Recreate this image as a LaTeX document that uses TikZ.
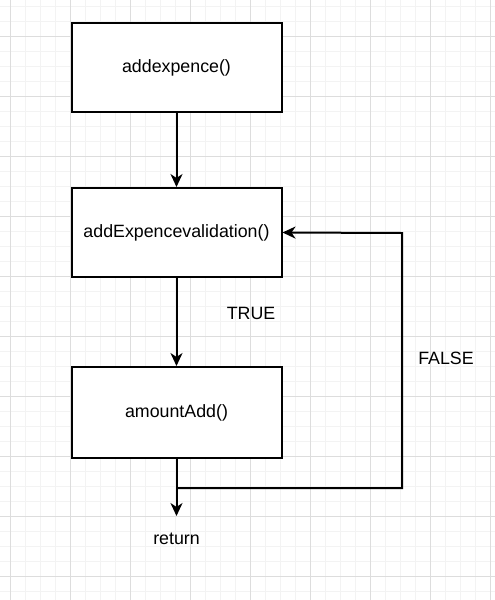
\documentclass[tikz,border=0pt]{standalone}
\usepackage{fontspec}
\setmainfont{Liberation Sans}
\usetikzlibrary{arrows.meta}
\definecolor{minorgrid}{HTML}{F3F3F3}
\definecolor{majorgrid}{HTML}{DDDDDD}
\tikzset{
  box/.style={draw=black, line width=2pt, fill=white, minimum width=210pt, minimum height=89pt, inner sep=0pt, font=\fontsize{17.8}{20}\selectfont},
  lbl/.style={inner sep=0pt, font=\fontsize{17.8}{20}\selectfont},
  conn/.style={draw=black, line width=2pt, -{Stealth[length=13pt,width=12pt,inset=4pt]}},
  plain/.style={draw=black, line width=2pt}
}
\begin{document}
\begin{tikzpicture}[x=1pt,y=-1pt]
\useasboundingbox (0,0) rectangle (495,600);
\fill[white] (0,0) rectangle (495,600);
% grid
\foreach \i in {0,...,33} {\draw[minorgrid, line width=1pt] ({-5+15*\i},0) -- ({-5+15*\i},600);}
\foreach \i in {0,...,40} {\draw[minorgrid, line width=1pt] (0,{6+15*\i}) -- (495,{6+15*\i});}
\foreach \i in {0,...,8} {\draw[majorgrid, line width=1pt] ({10+60*\i},0) -- ({10+60*\i},600);}
\foreach \i in {0,...,9} {\draw[majorgrid, line width=1pt] (0,{36+60*\i}) -- (495,{36+60*\i});}
% nodes
\node[box] (b1) at (176.5,67.5) {addexpence()};
\node[box] (b2) at (176.5,232.5) {addExpencevalidation()};
\node[box, minimum height=91pt] (b3) at (176.5,412.5) {amountAdd()};
\node[lbl] (t) at (251,313) {TRUE};
\node[lbl] (f) at (446,358) {FALSE};
\node[lbl] (ret) at (176.5,539) {return};
\coordinate (j) at (176.5,488);
\coordinate (retin) at (176.5,516);
\coordinate (c1) at (402,488);
\coordinate (c2) at (402,233);
% connectors
\draw[conn] (b1.south) -- (b2.north);
\draw[conn] (b2.south) -- (b3.north);
\draw[conn] (b3.south) -- (j) -- (retin);
\draw[conn] (j) -- (c1) -- (c2) -- (b2.east);
\end{tikzpicture}
\end{document}
